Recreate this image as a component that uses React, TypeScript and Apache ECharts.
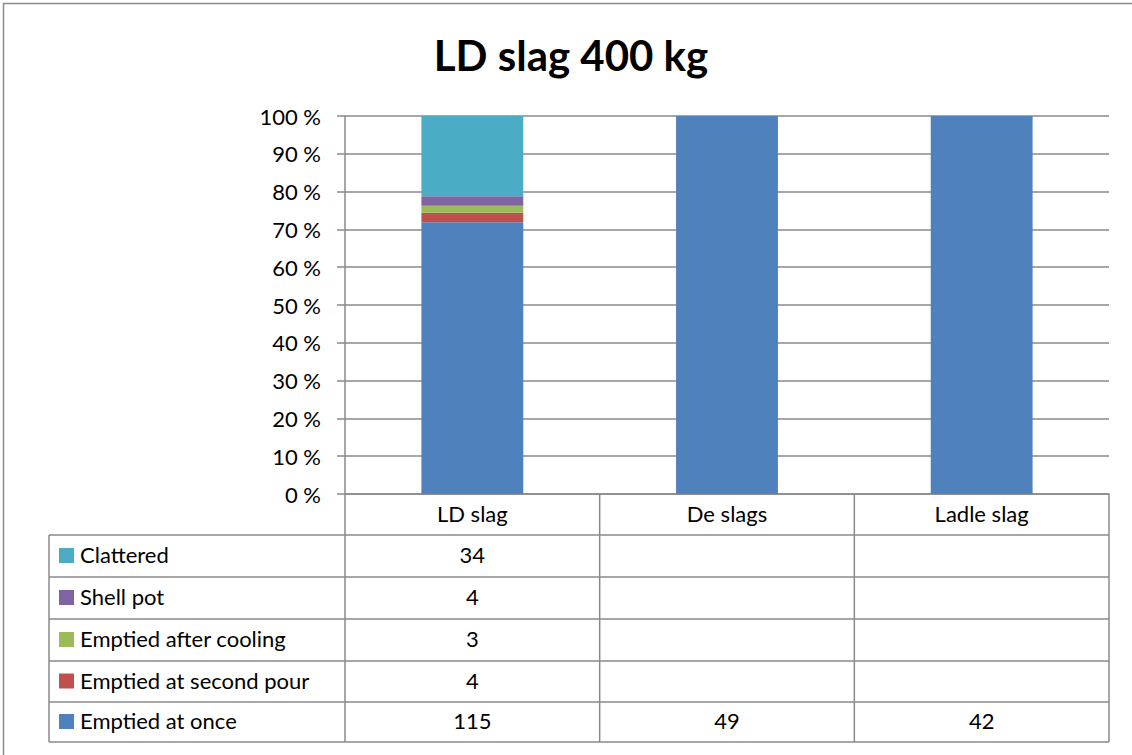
import React, { useEffect, useRef } from "react";
import * as echarts from "echarts";

const title = "LD slag 400 kg";
const categories = ["LD slag", "De slags", "Ladle slag"];
const seriesNames = [
  "Emptied at once",
  "Emptied at second pour",
  "Emptied after cooling",
  "Shell pot",
  "Clattered",
];
const emptiedAtOnce = [115, 49, 42];
const emptiedSecondPour = [4, null, null];
const emptiedAfterCooling = [3, null, null];
const shellPot = [4, null, null];
const clattered = [34, null, null];
const colors = ["#4F81BD", "#C0504D", "#9BBB59", "#8064A2", "#4BACC6"];
const yTicks = [0, 10, 20, 30, 40, 50, 60, 70, 80, 90, 100];

const FONT = "Lato, 'Open Sans', sans-serif";
const GRID = "#8a8a8a";

export default function App() {
  const ref = useRef<HTMLDivElement>(null);
  useEffect(() => {
    if (!ref.current) return;
    const chart = echarts.init(ref.current, null, { renderer: "svg" });
    const raw = [emptiedAtOnce, emptiedSecondPour, emptiedAfterCooling, shellPot, clattered];
    const totals = categories.map((_, i) =>
      raw.reduce((s, arr) => s + (arr[i] == null ? 0 : (arr[i] as number)), 0)
    );
    const pct = raw.map((arr) =>
      arr.map((v, i) => (v == null ? null : (v / totals[i]) * 100))
    );

    const gridLeft = 345;
    const gridRight = 1109;
    const gridTop = 116;
    const gridBottom = 494;
    const W = 1132;
    const H = 755;

    chart.setOption({
      animation: false,
      textStyle: { fontFamily: FONT },
      grid: {
        left: gridLeft,
        right: W - gridRight,
        top: gridTop,
        bottom: H - gridBottom,
        containLabel: false,
      },
      xAxis: {
        type: "category",
        data: categories,
        axisLine: { show: true, lineStyle: { color: GRID, width: 1.5 } },
        axisTick: { show: false },
        axisLabel: {
          color: "#000",
          fontSize: 22,
          fontFamily: FONT,
          margin: 8,
        },
      },
      yAxis: {
        type: "value",
        min: yTicks[0],
        max: yTicks[yTicks.length - 1],
        interval: 10,
        axisLine: { show: true, lineStyle: { color: GRID, width: 1.5 } },
        axisTick: { show: true, length: 8, lineStyle: { color: GRID, width: 1.5 } },
        splitLine: { show: true, lineStyle: { color: GRID, width: 1.5 } },
        axisLabel: {
          color: "#000",
          fontSize: 22,
          fontFamily: FONT,
          margin: 24,
          padding: [0, 0, 3, 0],
          formatter: (v: number) => `${v} %`,
        },
      },
      series: seriesNames.map((name, k) => ({
        name,
        type: "bar",
        stack: "total",
        barWidth: "40%",
        itemStyle: { color: colors[k] },
        data: pct[k],
      })),
    });

    const colX = categories.map((c) => chart.convertToPixel({ xAxisIndex: 0 }, c) as number);
    const colEdges = [gridLeft, (gridLeft * 2 + gridRight) / 3, (gridLeft + gridRight * 2) / 3, gridRight];
    const rowEdges = [535, 577, 619, 661, 702, 742];
    const tableLeft = 49;
    const lineStyle = { stroke: GRID, lineWidth: 1.5 };
    const els: any[] = [];
    els.push({
      type: "rect",
      shape: { x: 3.5, y: 3.5, width: 1200, height: 900 },
      style: { fill: "none", stroke: "#8a8a8a", lineWidth: 1.5 },
      silent: true,
    });
    els.push({
      type: "text",
      x: 571,
      y: 55,
      style: {
        text: title,
        fontFamily: FONT,
        fontWeight: "bold",
        fontSize: 42,
        fill: "#000",
        textAlign: "center",
        textVerticalAlign: "middle",
      },
    });
    colEdges.forEach((x) => {
      els.push({
        type: "line",
        shape: { x1: x, y1: gridBottom, x2: x, y2: rowEdges[rowEdges.length - 1] },
        style: lineStyle,
      });
    });
    els.push({
      type: "line",
      shape: { x1: tableLeft, y1: rowEdges[0], x2: tableLeft, y2: rowEdges[rowEdges.length - 1] },
      style: lineStyle,
    });
    rowEdges.forEach((y) => {
      els.push({
        type: "line",
        shape: { x1: tableLeft, y1: y, x2: gridRight, y2: y },
        style: lineStyle,
      });
    });
    const order = [4, 3, 2, 1, 0];
    order.forEach((k, r) => {
      const yc = (rowEdges[r] + rowEdges[r + 1]) / 2;
      els.push({
        type: "rect",
        shape: { x: 59, y: yc - 8, width: 15, height: 15 },
        style: { fill: colors[k] },
      });
      els.push({
        type: "text",
        x: 80,
        y: yc - 1.5,
        style: {
          text: seriesNames[k],
          fontFamily: FONT,
          fontSize: 22,
          fill: "#000",
          textAlign: "left",
          textVerticalAlign: "middle",
        },
      });
      raw[k].forEach((v, i) => {
        if (v == null) return;
        els.push({
          type: "text",
          x: colX[i],
          y: yc - 1.5,
          style: {
            text: String(v),
            fontFamily: FONT,
            fontSize: 22,
            fill: "#000",
            textAlign: "center",
            textVerticalAlign: "middle",
          },
        });
      });
    });
    chart.setOption({ graphic: { elements: els } });

    return () => chart.dispose();
  }, []);

  return (
    <div
      ref={ref}
      style={{ position: "fixed", left: 0, top: 0, width: 1132, height: 755, background: "#fff" }}
    />
  );
}
